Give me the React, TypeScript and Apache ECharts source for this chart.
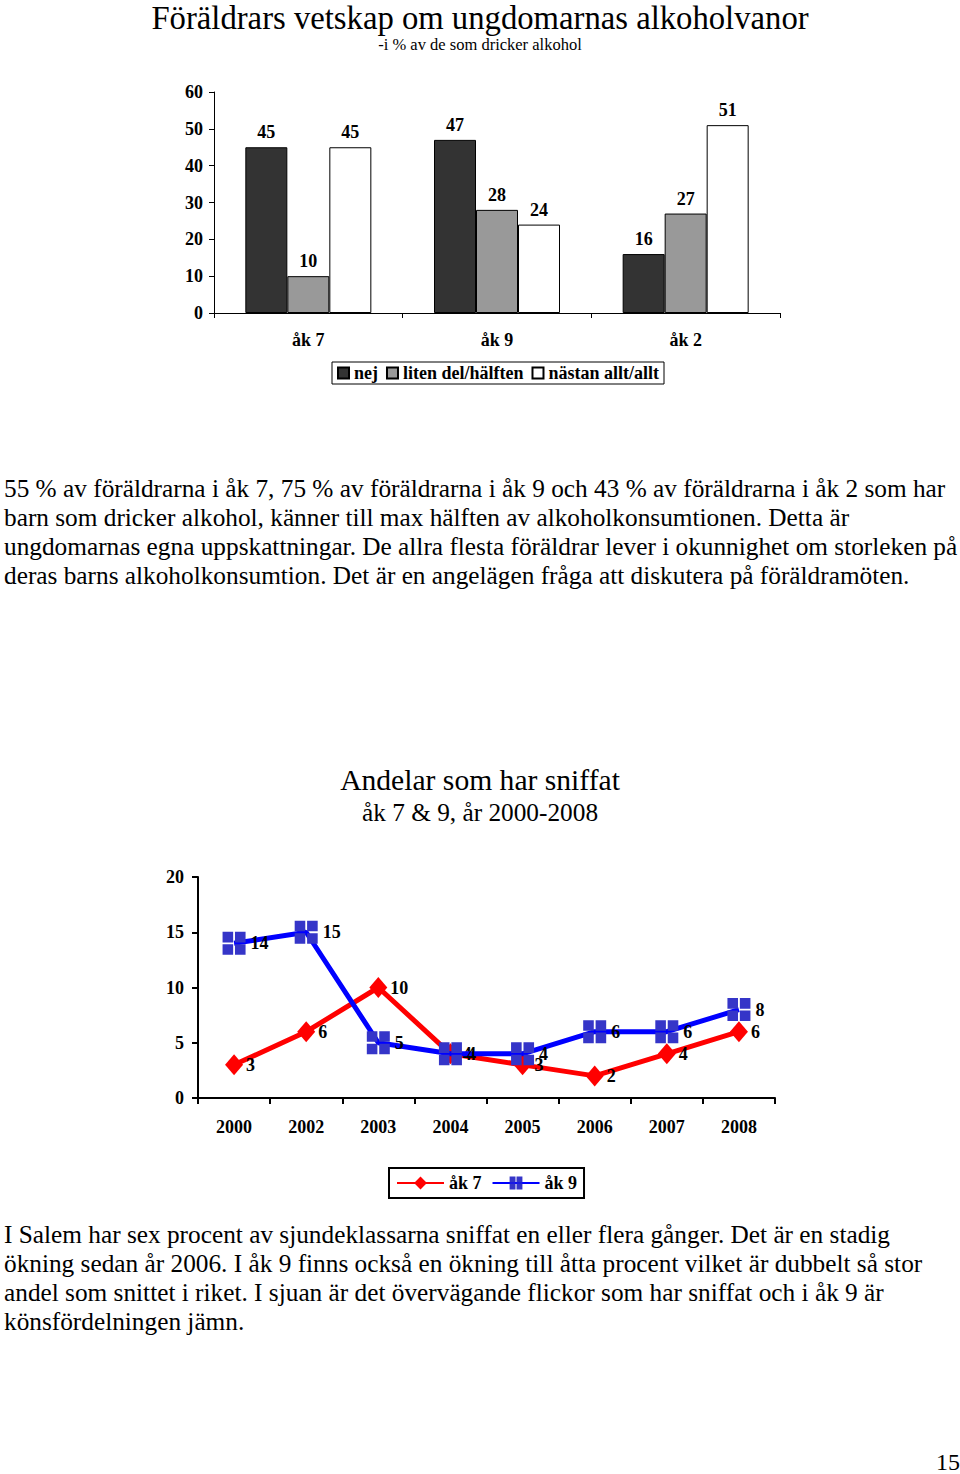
import React, { useEffect, useRef } from "react";
import * as echarts from "echarts";

const barCategories = ["åk 7", "åk 9", "åk 2"];
const barSeriesNames = ["nej", "liten del/hälften", "nästan allt/allt"];
const barNej = [45, 47, 16];
const barLiten = [10, 28, 27];
const barNastan = [45, 24, 51];

const years = ["2000", "2002", "2003", "2004", "2005", "2006", "2007", "2008"];
const ak7 = [3, 6, 10, 4, 3, 2, 4, 6];
const ak9 = [14, 15, 5, 4, 4, 6, 6, 8];

const para1 = [
  "55 % av föräldrarna i åk 7, 75 % av föräldrarna i åk 9 och 43 % av föräldrarna i åk 2 som har",
  "barn som dricker alkohol, känner till max hälften av alkoholkonsumtionen. Detta är",
  "ungdomarnas egna uppskattningar. De allra flesta föräldrar lever i okunnighet om storleken på",
  "deras barns alkoholkonsumtion. Det är en angelägen fråga att diskutera på föräldramöten.",
];
const para2 = [
  "I Salem har sex procent av sjundeklassarna sniffat en eller flera gånger. Det är en stadig",
  "ökning sedan år 2006. I åk 9 finns också en ökning till åtta procent vilket är dubbelt så stor",
  "andel som snittet i riket. I sjuan är det övervägande flickor som har sniffat och i åk 9 är",
  "könsfördelningen jämn.",
];

const FONT = "'Liberation Serif', 'Times New Roman', serif";
const crossSquare =
  "path://M0,0H9.2V9.2H0Z M10.8,0H20V9.2H10.8Z M0,10.8H9.2V20H0Z M10.8,10.8H20V20H10.8Z";

export default function App() {
  const ref = useRef<HTMLDivElement>(null);
  useEffect(() => {
    if (!ref.current) return;
    const chart = echarts.init(ref.current, undefined, { renderer: "svg" });
    const boldLabel = { fontFamily: FONT, fontWeight: "bold", fontSize: 18, color: "#000" };
    const graphics: any[] = [];
    para1.forEach((t, i) =>
      graphics.push({
        type: "text",
        x: 4,
        y: 488 + i * 29,
        style: { text: t, font: `25.3px ${FONT}`, fill: "#000", textVerticalAlign: "middle" },
      })
    );
    para2.forEach((t, i) =>
      graphics.push({
        type: "text",
        x: 4,
        y: 1234 + i * 29,
        style: { text: t, font: `25.3px ${FONT}`, fill: "#000", textVerticalAlign: "middle" },
      })
    );
    graphics.push({
      type: "text",
      x: 948,
      y: 1462,
      style: { text: "15", font: `24px ${FONT}`, fill: "#000", textAlign: "center", textVerticalAlign: "middle" },
    });

    chart.setOption({
      animation: false,
      backgroundColor: "#fff",
      title: [
        {
          text: "Föräldrars vetskap om ungdomarnas alkoholvanor",
          left: "center",
          top: -4,
          textStyle: { fontFamily: FONT, fontWeight: "normal", fontSize: 32.7, color: "#000" },
        },
        {
          text: "-i % av de som dricker alkohol",
          left: "center",
          top: 31,
          textStyle: { fontFamily: FONT, fontWeight: "normal", fontSize: 16.5, color: "#000" },
        },
        {
          text: "Andelar som har sniffat",
          left: "center",
          top: 760,
          textStyle: { fontFamily: FONT, fontWeight: "normal", fontSize: 29.6, color: "#000" },
        },
        {
          text: "åk 7 & 9, år 2000-2008",
          left: "center",
          top: 794,
          textStyle: { fontFamily: FONT, fontWeight: "normal", fontSize: 25.3, color: "#000" },
        },
      ],
      legend: [
        {
          data: barSeriesNames,
          left: 332,
          top: 362,
          icon: "rect",
          itemWidth: 11,
          itemHeight: 11,
          itemGap: 8,
          padding: [2, 5],
          borderColor: "#000",
          borderWidth: 1,
          textStyle: boldLabel,
        },
        {
          data: ["åk 7", "åk 9"],
          left: 389,
          top: 1168,
          itemWidth: 47,
          itemHeight: 16,
          itemGap: 10,
          padding: [6, 7],
          borderColor: "#000",
          borderWidth: 2,
          textStyle: boldLabel,
        },
      ],
      grid: [
        { left: 214, top: 92, width: 566, height: 221, containLabel: false },
        { left: 198, top: 877, width: 577, height: 221, containLabel: false },
      ],
      xAxis: [
        {
          type: "category",
          gridIndex: 0,
          data: barCategories,
          axisLine: { lineStyle: { color: "#000", width: 1 } },
          axisTick: { show: true, length: 5, lineStyle: { color: "#000" } },
          axisLabel: { ...boldLabel, margin: 18 },
        },
        {
          type: "category",
          gridIndex: 1,
          data: years,
          axisLine: { lineStyle: { color: "#000", width: 2 } },
          axisTick: { show: true, length: 6, lineStyle: { color: "#000", width: 2 } },
          axisLabel: { ...boldLabel, margin: 20 },
        },
      ],
      yAxis: [
        {
          type: "value",
          gridIndex: 0,
          min: 0,
          max: 60,
          interval: 10,
          splitLine: { show: false },
          axisLine: { show: true, lineStyle: { color: "#000", width: 1 } },
          axisTick: { show: true, length: 5, lineStyle: { color: "#000" } },
          axisLabel: { ...boldLabel, margin: 11 },
        },
        {
          type: "value",
          gridIndex: 1,
          min: 0,
          max: 20,
          interval: 5,
          splitLine: { show: false },
          axisLine: { show: true, lineStyle: { color: "#000", width: 2 } },
          axisTick: { show: true, length: 6, lineStyle: { color: "#000", width: 2 } },
          axisLabel: { ...boldLabel, margin: 14 },
        },
      ],
      series: [
        {
          name: barSeriesNames[0],
          type: "bar",
          xAxisIndex: 0,
          yAxisIndex: 0,
          data: barNej,
          barWidth: 42,
          barGap: "0%",
          itemStyle: { color: "#333333", borderColor: "#000", borderWidth: 1 },
          label: { show: true, position: "top", distance: 6, ...boldLabel },
        },
        {
          name: barSeriesNames[1],
          type: "bar",
          xAxisIndex: 0,
          yAxisIndex: 0,
          data: barLiten,
          barWidth: 42,
          barGap: "0%",
          itemStyle: { color: "#999999", borderColor: "#000", borderWidth: 1 },
          label: { show: true, position: "top", distance: 6, ...boldLabel },
        },
        {
          name: barSeriesNames[2],
          type: "bar",
          xAxisIndex: 0,
          yAxisIndex: 0,
          data: barNastan,
          barWidth: 42,
          barGap: "0%",
          itemStyle: { color: "#ffffff", borderColor: "#000", borderWidth: 1 },
          label: { show: true, position: "top", distance: 6, ...boldLabel },
        },
        {
          name: "åk 7",
          type: "line",
          xAxisIndex: 1,
          yAxisIndex: 1,
          data: ak7,
          symbol: "diamond",
          symbolSize: [18, 21],
          lineStyle: { color: "#ff0000", width: 5 },
          itemStyle: { color: "#ff0000" },
          label: { show: true, position: "right", distance: 3, ...boldLabel },
          z: 2,
        },
        {
          name: "åk 9",
          type: "line",
          xAxisIndex: 1,
          yAxisIndex: 1,
          data: ak9,
          symbol: crossSquare,
          symbolSize: 23,
          lineStyle: { color: "#0000ff", width: 5 },
          itemStyle: { color: "#3535c8" },
          label: { show: true, position: "right", distance: 5, ...boldLabel },
          z: 3,
        },
      ],
      graphic: graphics,
    });
    return () => chart.dispose();
  }, []);
  return (
    <div
      ref={ref}
      style={{ position: "absolute", left: 0, top: 0, width: 960, height: 1474, background: "#fff" }}
    />
  );
}
